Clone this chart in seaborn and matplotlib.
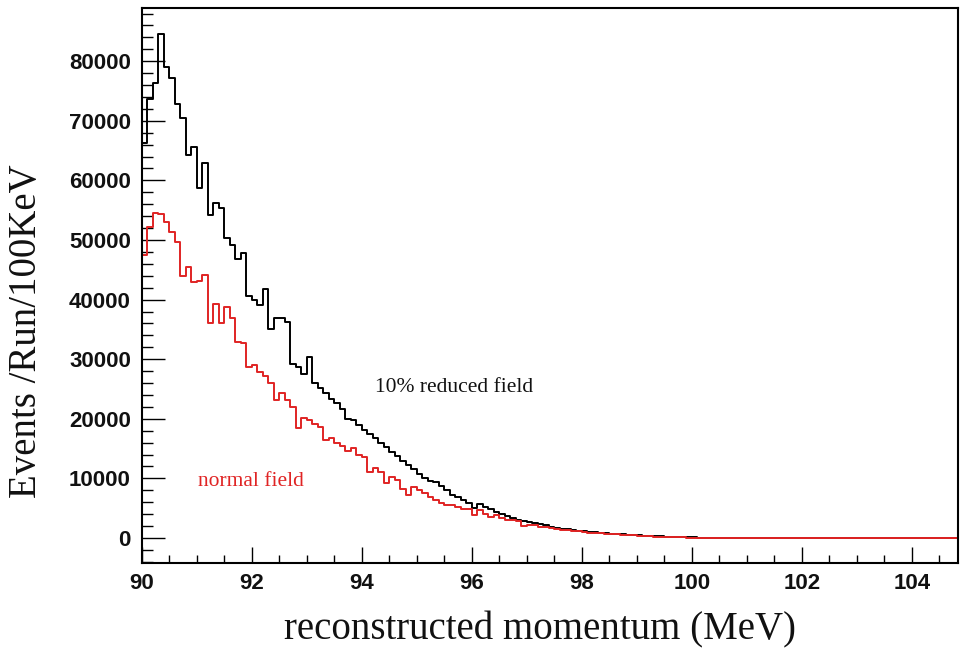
import numpy as np
import pandas as pd
import matplotlib
matplotlib.use("Agg")
import matplotlib.pyplot as plt
import seaborn as sns
from matplotlib.ticker import MultipleLocator, FixedLocator

# ---------------- data (events per 100 keV bin, 90 -> 105 MeV) ----------------
momentum_range = (90.0, 105.0)

reduced_field = [
    66200, 73600, 76300, 84600, 79100, 77200, 72900, 70400, 64300, 65600,
    58700, 62900, 54200, 56200, 55400, 50300, 49200, 46800, 47900, 40600,
    40000, 39100, 41700, 35000, 36900, 36900, 36300, 29200, 28700, 27600,
    30400, 26000, 25100, 24300, 23400, 22600, 21700, 19900, 19800, 19000,
    18200, 17500, 16800, 16000, 15300, 14500, 13700, 13000, 12200, 11500,
    10700, 10000, 9500, 9400, 8700, 8000, 7200, 6900, 6400, 5900,
    5000, 5700, 5200, 4800, 4400, 4000, 3700, 3400, 3100, 2900,
    2700, 2500, 2300, 2100, 1900, 1700, 1550, 1450, 1350, 1250,
    1150, 1050, 950, 880, 800, 730, 660, 600, 540, 480,
    430, 380, 340, 300, 260, 220, 190, 160, 130, 110,
    90, 70, 60, 50, 40, 30, 25, 20, 15, 10,
    8, 6, 5, 4, 3, 0, 0, 0, 0, 0,
    0, 0, 0, 0, 0, 0, 0, 0, 0, 0,
    0, 0, 0, 0, 0, 0, 0, 0, 0, 0,
    0, 0, 0, 0, 0, 0, 0, 0, 0, 0,
]

normal_field = [
    47500, 52200, 54600, 54400, 53100, 51400, 49700, 44000, 45500, 42900,
    43100, 44100, 36000, 39200, 36000, 38700, 36900, 32900, 32800, 28700,
    29000, 27900, 27100, 26000, 23200, 24300, 23200, 22000, 18400, 20100,
    19800, 19200, 18700, 16500, 16700, 16000, 15500, 14600, 15100, 14000,
    13600, 11100, 11700, 11000, 9300, 10300, 9700, 8300, 7200, 8600,
    8000, 7500, 6900, 6400, 5900, 5500, 5500, 5200, 4800, 4800,
    3900, 4700, 4000, 3600, 3900, 3300, 3100, 3000, 2900, 2000,
    2100, 2100, 1900, 1800, 1700, 1500, 1400, 1300, 1200, 1100,
    1000, 920, 850, 780, 710, 650, 590, 530, 470, 420,
    370, 330, 290, 250, 210, 180, 150, 120, 100, 80,
    65, 50, 40, 30, 25, 20, 15, 10, 8, 5,
    4, 3, 2, 1, 0, 0, 0, 0, 0, 0,
    0, 0, 0, 0, 0, 0, 0, 0, 0, 0,
    0, 0, 0, 0, 0, 0, 0, 0, 0, 0,
    0, 0, 0, 0, 0, 0, 0, 0, 0, 0,
]

x_ticks = [90, 92, 94, 96, 98, 100, 102, 104]
y_ticks = [0, 10000, 20000, 30000, 40000, 50000, 60000, 70000, 80000]
x_title = "reconstructed momentum (MeV)"
y_title = "Events /Run/100KeV"
label_reduced = "10% reduced field"
label_normal = "normal field"

# ---------------- styling ----------------
sns.set_style("ticks")
plt.rcParams['font.family'] = ['Liberation Sans', 'DejaVu Sans']
RED = "#e02424"

W, H = 961, 656
fig = plt.figure(figsize=(W / 100, H / 100), dpi=100)
ax_l, ax_r, ax_t, ax_b = 142, 958, 8, 563
ax = fig.add_axes([ax_l / W, (H - ax_b) / H, (ax_r - ax_l) / W, (ax_b - ax_t) / H])

n = len(reduced_field)
edges = np.linspace(momentum_range[0], momentum_range[1], n + 1)
centers = 0.5 * (edges[:-1] + edges[1:])
df = pd.DataFrame({
    "momentum": np.concatenate([centers, centers]),
    "events": np.concatenate([reduced_field, normal_field]),
    "field": [label_reduced] * n + [label_normal] * n,
})
bin_list = edges.tolist()

sns.histplot(data=df[df.field == label_reduced], x="momentum", weights="events",
             bins=bin_list, element="step", fill=False, color="black",
             linewidth=1.4, ax=ax)
sns.histplot(data=df[df.field == label_normal], x="momentum", weights="events",
             bins=bin_list, element="step", fill=False, color=RED,
             linewidth=1.4, ax=ax)

px_per_unit_x = 55.0
xmax = 90 + (ax_r - ax_l) / px_per_unit_x
ax.set_xlim(90, xmax)
ax.set_ylim(-4195, 88930)

ax.xaxis.set_major_locator(FixedLocator(x_ticks))
ax.xaxis.set_minor_locator(MultipleLocator(0.5))
ax.yaxis.set_major_locator(FixedLocator(y_ticks))
ax.yaxis.set_minor_locator(MultipleLocator(2000))
ax.set_xticklabels([str(t) for t in x_ticks])
ax.set_yticklabels([str(t) for t in y_ticks])

ax.tick_params(axis='x', which='major', direction='in', length=11.5, width=1.0,
               top=False, bottom=True, labelsize=16, pad=7, color='black')
ax.tick_params(axis='x', which='minor', direction='in', length=5.8, width=1.0,
               top=False, bottom=True, color='black')
ax.tick_params(axis='y', which='major', direction='in', length=16.5, width=1.0,
               right=False, left=True, labelsize=16, pad=8, color='black')
ax.tick_params(axis='y', which='minor', direction='in', length=8.0, width=1.0,
               right=False, left=True, color='black')
for lab in ax.get_xticklabels() + ax.get_yticklabels():
    lab.set_fontweight('bold')
    lab.set_color('#111111')

for s in ax.spines.values():
    s.set_visible(True)
    s.set_linewidth(1.5)
    s.set_color('black')

ax.set_xlabel(x_title, fontsize=28, fontfamily='Liberation Serif', color='#111111')
ax.set_ylabel(y_title, fontsize=28, fontfamily='Liberation Serif', color='#111111')
ax.xaxis.set_label_coords((540.5 - ax_l) / (ax_r - ax_l), -(630 - ax_b) / (ax_b - ax_t))
ax.xaxis.label.set_va('center')
ax.yaxis.set_label_coords((27 - ax_l) / (ax_r - ax_l), (ax_b - 331) / (ax_b - ax_t))
ax.yaxis.label.set_va('center')

ax.text(94.24, 25170, label_reduced, fontsize=15.5, fontfamily='Liberation Serif',
        color='#111111', ha='left', va='center')
ax.text(91.02, 9400, label_normal, fontsize=15.5, fontfamily='Liberation Serif',
        color=RED, ha='left', va='center')

fig.savefig("out.png", dpi=100)
